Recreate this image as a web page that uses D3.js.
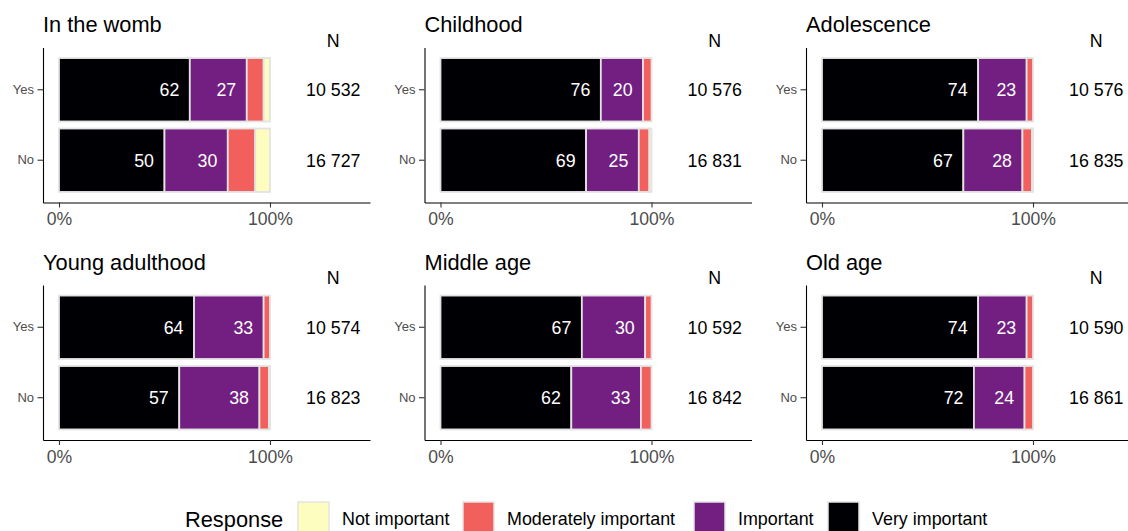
<!DOCTYPE html>
<html><head><meta charset="utf-8">
<script src="https://cdn.jsdelivr.net/npm/d3@7"></script>
<style>body{margin:0;background:#fff} svg{display:block;font-family:"Liberation Sans",Arial,Helvetica,sans-serif}</style>
</head><body><svg id="chart" width="1128" height="531"></svg>
<script>
// ---- data ----
const stages = ["In the womb","Childhood","Adolescence","Young adulthood","Middle age","Old age"];
const groups = ["Yes","No"];
const responses = ["Very important","Important","Moderately important","Not important"];
const legendOrder = ["Not important","Moderately important","Important","Very important"];
const responseColors = ["#000004","#721F81","#F1605D","#FCFDBF"];
// percentages per stage: [Yes, No]
const veryImportant = [[62,50],[76,69],[74,67],[64,57],[67,62],[74,72]];
const important = [[27,30],[20,25],[23,28],[33,38],[30,33],[23,24]];
const moderatelyImportant = [[8,13],[4,5],[3,4.5],[3,4.5],[3,5],[3,4]];
const notImportant = [[3,7],[0,1],[0,0.5],[0,0.5],[0,0],[0,0]];
const nLabels = [["10 532","16 727"],["10 576","16 831"],["10 576","16 835"],["10 574","16 823"],["10 592","16 842"],["10 590","16 861"]];
const xTickValues = [0,1];
const nPosition = 1.3;
const labelledResponses = ["Very important","Important"];

// ---- layout ----
const svg = d3.select("#chart");
const panelLefts = [43, 424.5, 806];
const panelTops = [47.5, 285];
const panelW = 327, panelH = 155;
const color = d3.scaleOrdinal().domain(responses).range(responseColors);
const seriesByResponse = [veryImportant, important, moderatelyImportant, notImportant];

stages.forEach((stage, si) => {
  const left = panelLefts[si % 3], top = panelTops[Math.floor(si / 3)];
  const g = svg.append("g");
  const x = d3.scaleLinear().domain([-0.0758, 1.474]).range([left, left + panelW]);
  const y = d3.scaleBand().domain(groups).range([top, top + panelH]).paddingInner(0.1).paddingOuter(0.15);

  groups.forEach((grp, gi) => {
    let cum = 0;
    responses.forEach((resp, ri) => {
      const v = seriesByResponse[ri][si][gi] / 100;
      const x0 = cum, x1 = cum + v;
      cum = x1;
      if (v <= 0) return;
      g.append("rect")
        .attr("x", x(x0)).attr("y", y(grp))
        .attr("width", x(x1) - x(x0)).attr("height", y.bandwidth())
        .attr("fill", color(resp)).attr("stroke", "#e3e3e3").attr("stroke-width", 1.8);
      if (labelledResponses.includes(resp)) {
        g.append("text")
          .attr("x", x(x1) - 10.5).attr("y", y(grp) + y.bandwidth() / 2)
          .attr("dy", "0.36em").attr("text-anchor", "end")
          .attr("fill", "#ffffff").attr("font-size", "17.8px")
          .text(d3.format(".0f")(v * 100));
      }
    });
    g.append("text")
      .attr("x", x(nPosition)).attr("y", y(grp) + y.bandwidth() / 2)
      .attr("dy", "0.36em").attr("text-anchor", "middle")
      .attr("fill", "#000").attr("font-size", "17.8px")
      .text(nLabels[si][gi]);
  });

  g.append("text").attr("x", x(nPosition)).attr("y", top - 1)
    .attr("text-anchor", "middle").attr("font-size", "17.8px").attr("fill", "#000").text("N");

  g.append("text").attr("x", left).attr("y", top - 15.5)
    .attr("font-size", "21.8px").attr("fill", "#000").text(stage);

  const ax = g.append("g").attr("transform", `translate(0,${top + panelH})`)
    .call(d3.axisBottom(x).tickValues(xTickValues).tickFormat(d3.format(".0%")).tickSize(5).tickPadding(5.5).tickSizeOuter(0));
  const ay = g.append("g").attr("transform", `translate(${left},0)`)
    .call(d3.axisLeft(y).tickSize(5.5).tickPadding(3.5).tickSizeOuter(0));
  ax.selectAll("text").attr("font-size", "17.6px").attr("fill", "#4d4d4d").attr("font-family", null);
  ay.selectAll("text").attr("font-size", "13px").attr("fill", "#4d4d4d").attr("font-family", null);
  [ax, ay].forEach(a => {
    a.select(".domain").attr("stroke", "#000").attr("stroke-width", 1.1);
    a.selectAll(".tick line").attr("stroke", "#333").attr("stroke-width", 1.1);
  });
});

// ---- legend ----
const lg = svg.append("g");
const ly = 519;
const legendKeyX = [298, 463, 694, 828];
lg.append("text").attr("x", 185).attr("y", ly).attr("dy", "0.36em")
  .attr("font-size", "21.8px").attr("fill", "#000").text("Response");
legendOrder.forEach((resp, i) => {
  const kx = legendKeyX[i];
  lg.append("rect").attr("x", kx).attr("y", 502).attr("width", 31).attr("height", 31)
    .attr("fill", color(resp)).attr("stroke", "#e3e3e3").attr("stroke-width", 1.5);
  lg.append("text").attr("x", kx + 44).attr("y", ly).attr("dy", "0.36em")
    .attr("font-size", "17.9px").attr("fill", "#000").text(resp);
});
</script></body></html>
